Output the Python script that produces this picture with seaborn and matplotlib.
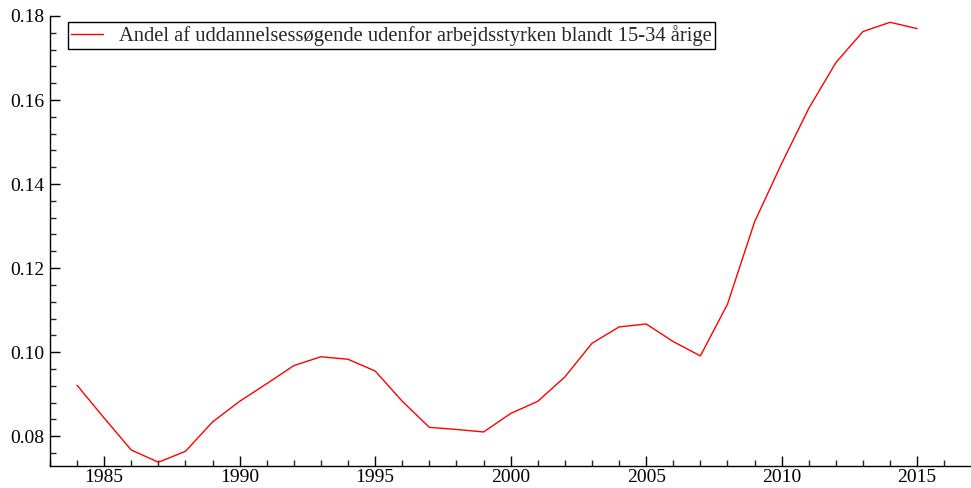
import matplotlib
matplotlib.use("Agg")
import matplotlib.pyplot as plt
import seaborn as sns
import pandas as pd
from matplotlib.ticker import MultipleLocator

years = list(range(1984, 2016))
values = [0.0921, 0.0843, 0.0767, 0.0738, 0.0764, 0.0834, 0.0883, 0.0925,
          0.0968, 0.0989, 0.0983, 0.0955, 0.0883, 0.0821, 0.0816, 0.0810,
          0.0854, 0.0883, 0.0941, 0.1021, 0.1060, 0.1067, 0.1025, 0.0991,
          0.1114, 0.1310, 0.1449, 0.1580, 0.1689, 0.1763, 0.1785, 0.1770]
label = "Andel af uddannelsessøgende udenfor arbejdsstyrken blandt 15-34 årige"

df = pd.DataFrame({"year": years, "value": values})

sns.set_style("ticks")
plt.rcParams['font.family'] = ['Liberation Serif', 'DejaVu Serif']

fig = plt.figure(figsize=(9.71, 4.88), dpi=100)
ax = fig.add_axes([50/971, 22/488, 920/971, 450/488])
sns.lineplot(data=df, x="year", y="value", ax=ax, color="red", linewidth=1.0, label=label)

ax.set_xlim(1983, 2016.95)
ax.set_ylim(0.0729, 0.18)
ax.xaxis.set_major_locator(MultipleLocator(5))
ax.xaxis.set_minor_locator(MultipleLocator(1))
ax.yaxis.set_major_locator(MultipleLocator(0.02))
ax.yaxis.set_minor_locator(MultipleLocator(0.004))
ax.yaxis.set_major_formatter(matplotlib.ticker.FormatStrFormatter('%.2f'))
ax.tick_params(which='major', direction='in', length=7, width=1, labelsize=14, colors='black', pad=4)
ax.tick_params(axis='x', which='major', pad=2)
ax.tick_params(which='minor', direction='in', length=4, width=1)
ax.set_xlabel("")
ax.set_ylabel("")
sns.despine(ax=ax)
for s in ["left", "bottom"]:
    ax.spines[s].set_linewidth(1.0)
    ax.spines[s].set_color("black")

leg = ax.legend(loc="upper left", bbox_to_anchor=(18/920, 1 - 6/450), fontsize=14.8,
                frameon=True, fancybox=False, framealpha=1, edgecolor="black",
                handlelength=1.55, borderpad=0.15, handletextpad=0.8, borderaxespad=0)
leg.get_frame().set_linewidth(1.0)

fig.savefig("out.png", dpi=100)
